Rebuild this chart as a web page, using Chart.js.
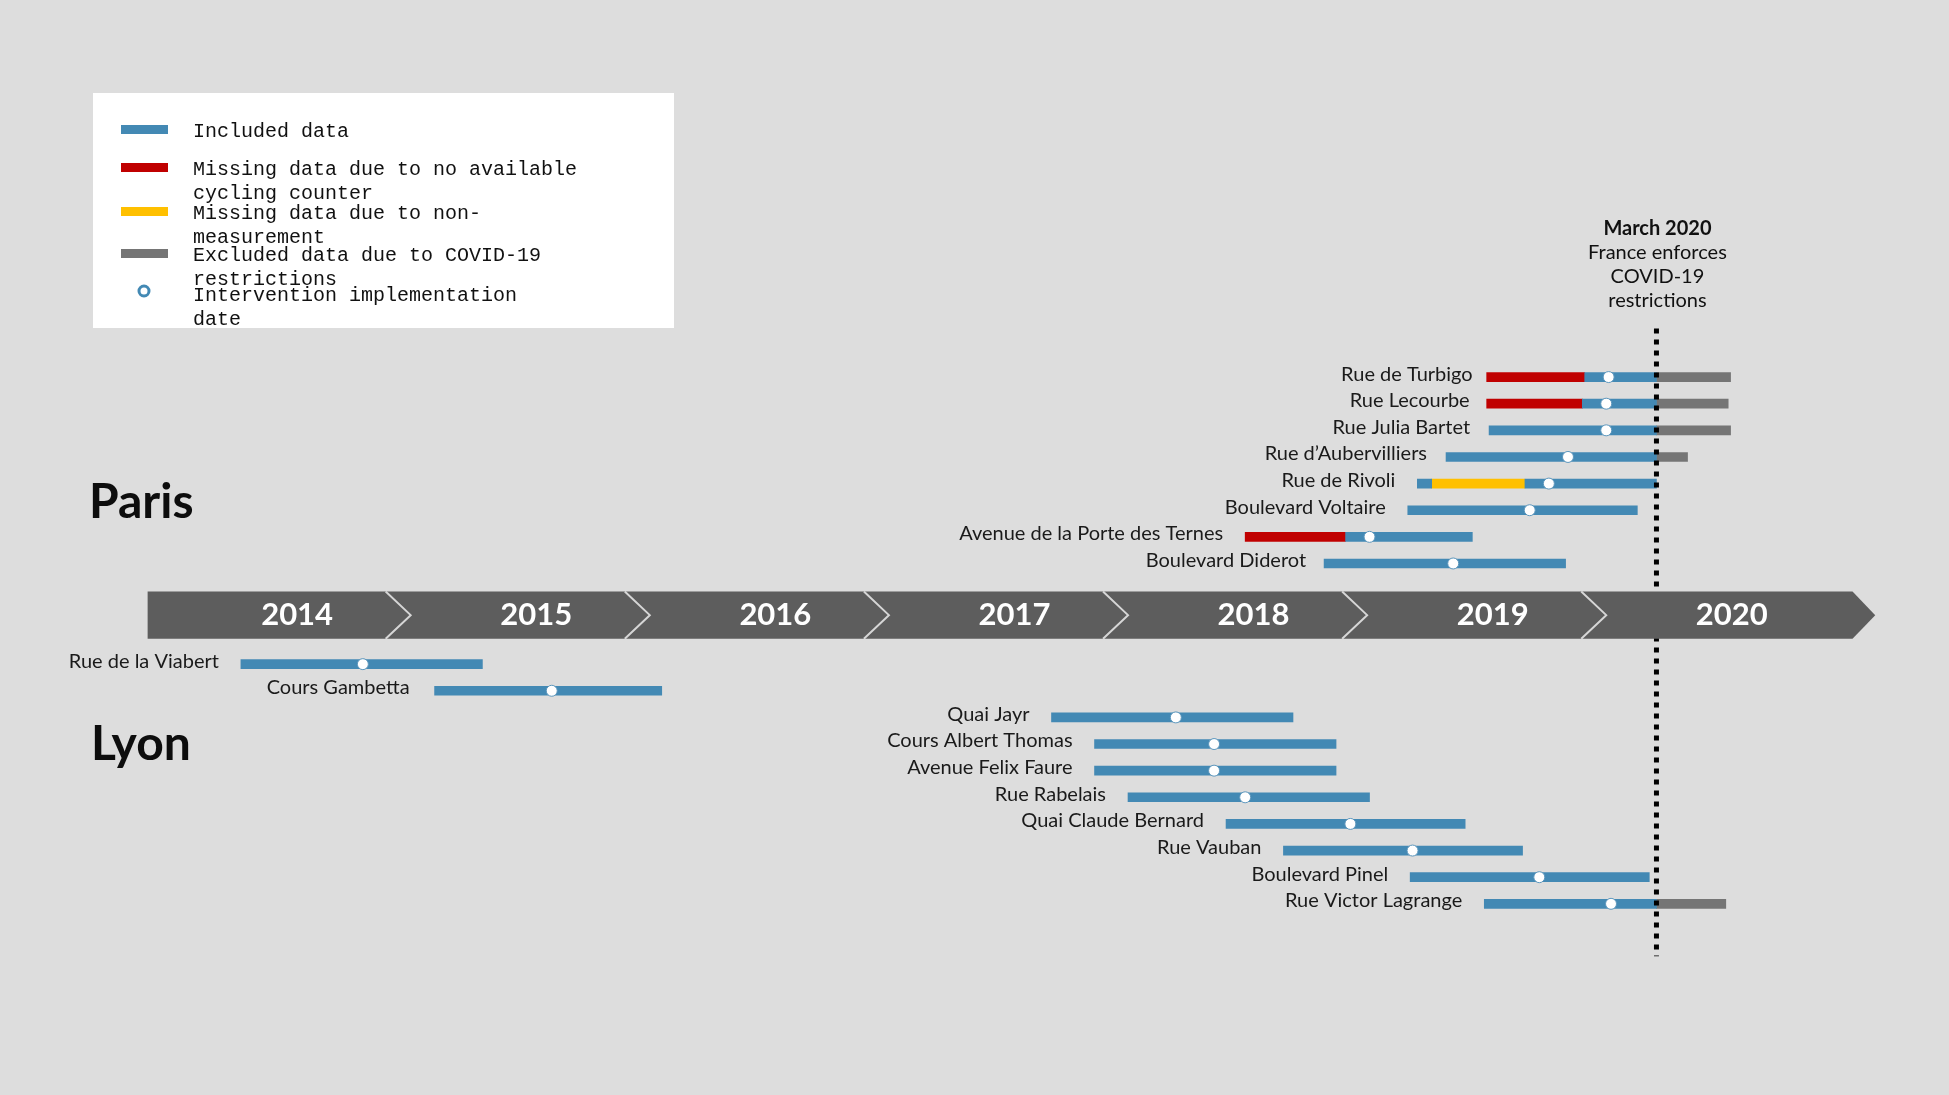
<!DOCTYPE html>
<html>
<head>
<meta charset="utf-8">
<title>Cycling interventions timeline</title>
<script src="https://cdn.jsdelivr.net/npm/chart.js@4.4.1/dist/chart.umd.min.js"></script>
<style>
    html, body {
        margin: 0;
        padding: 0;
        background: #dddddd;
    }
    #timelineChart {
        display: block;
    }
</style>
</head>
<body>
<canvas id="timelineChart" width="1949" height="1095"></canvas>
<script>
// Streets, top to bottom
const parisStreets = [
    'Rue de Turbigo', 'Rue Lecourbe', 'Rue Julia Bartet', 'Rue d\u2019Aubervilliers',
    'Rue de Rivoli', 'Boulevard Voltaire', 'Avenue de la Porte des Ternes', 'Boulevard Diderot'
];
const lyonStreets = [
    'Rue de la Viabert', 'Cours Gambetta', 'Quai Jayr', 'Cours Albert Thomas',
    'Avenue Felix Faure', 'Rue Rabelais', 'Quai Claude Bernard', 'Rue Vauban',
    'Boulevard Pinel', 'Rue Victor Lagrange'
];

const yearLabels = ['2014', '2015', '2016', '2017', '2018', '2019', '2020'];
const covidDate = 2020.21;

// [street, start, end] in decimal years
const includedData = [
    ['Rue de Turbigo', 2019.91, 2020.21],
    ['Rue Lecourbe', 2019.90, 2020.21],
    ['Rue Julia Bartet', 2019.51, 2020.21],
    ['Rue d\u2019Aubervilliers', 2019.33, 2020.21],
    ['Rue de Rivoli', 2019.21, 2019.27],
    ['Rue de Rivoli', 2019.66, 2020.21],
    ['Boulevard Voltaire', 2019.17, 2020.13],
    ['Avenue de la Porte des Ternes', 2018.91, 2019.44],
    ['Boulevard Diderot', 2018.82, 2019.83],
    ['Rue de la Viabert', 2014.29, 2015.30],
    ['Cours Gambetta', 2015.10, 2016.05],
    ['Quai Jayr', 2017.68, 2018.69],
    ['Cours Albert Thomas', 2017.86, 2018.87],
    ['Avenue Felix Faure', 2017.86, 2018.87],
    ['Rue Rabelais', 2018.00, 2019.01],
    ['Quai Claude Bernard', 2018.41, 2019.41],
    ['Rue Vauban', 2018.65, 2019.65],
    ['Boulevard Pinel', 2019.18, 2020.18],
    ['Rue Victor Lagrange', 2019.49, 2020.21]
];
const noCounterData = [
    ['Rue de Turbigo', 2019.50, 2019.91],
    ['Rue Lecourbe', 2019.50, 2019.90],
    ['Avenue de la Porte des Ternes', 2018.49, 2018.91]
];
const noMeasureData = [
    ['Rue de Rivoli', 2019.27, 2019.66]
];
const covidExcludedData = [
    ['Rue de Turbigo', 2020.21, 2020.52],
    ['Rue Lecourbe', 2020.21, 2020.51],
    ['Rue Julia Bartet', 2020.21, 2020.52],
    ['Rue d\u2019Aubervilliers', 2020.21, 2020.34],
    ['Rue Victor Lagrange', 2020.21, 2020.50]
];
// [street, intervention date]
const interventionData = [
    ['Rue de Turbigo', 2020.01],
    ['Rue Lecourbe', 2020.00],
    ['Rue Julia Bartet', 2020.00],
    ['Rue d\u2019Aubervilliers', 2019.84],
    ['Rue de Rivoli', 2019.76],
    ['Boulevard Voltaire', 2019.68],
    ['Avenue de la Porte des Ternes', 2019.01],
    ['Boulevard Diderot', 2019.36],
    ['Rue de la Viabert', 2014.80],
    ['Cours Gambetta', 2015.59],
    ['Quai Jayr', 2018.20],
    ['Cours Albert Thomas', 2018.36],
    ['Avenue Felix Faure', 2018.36],
    ['Rue Rabelais', 2018.49],
    ['Quai Claude Bernard', 2018.93],
    ['Rue Vauban', 2019.19],
    ['Boulevard Pinel', 2019.72],
    ['Rue Victor Lagrange', 2020.02]
];

const legendItems = [
    { kind: 'bar', color: '#4389b4', lines: ['Included data'] },
    { kind: 'bar', color: '#c00000', lines: ['Missing data due to no available', 'cycling counter'] },
    { kind: 'bar', color: '#ffc000', lines: ['Missing data due to non-', 'measurement'] },
    { kind: 'bar', color: '#757575', lines: ['Excluded data due to COVID-19', 'restrictions'] },
    { kind: 'dot', color: '#4389b4', lines: ['Intervention implementation', 'date'] }
];
const annotationLines = ['March 2020', 'France enforces', 'COVID-19', 'restrictions'];

// Layout: row positions on the y scale (Paris rows, then the timeline band, then Lyon rows)
const lyonOffset = 10.78;
const band = { start: 2013.9, end: 2021.03, tip: 2021.125, top: 8.05, bottom: 9.83 };
// small hand nudges of the street labels (px), as in the original
const labelNudge = {
    'Rue de Turbigo': 8, 'Rue Lecourbe': 5, 'Rue Julia Bartet': 3,
    'Rue d\u2019Aubervilliers': 3, 'Boulevard Diderot': 4, 'Cours Gambetta': -3
};

function rowOf(street) {
    const p = parisStreets.indexOf(street);
    return p !== -1 ? p : lyonOffset + lyonStreets.indexOf(street);
}

function toBars(rows) {
    return rows.map(([street, start, end]) => ({ x: [start, end], y: rowOf(street) }));
}

const allStreets = parisStreets.concat(lyonStreets);
const allSegments = includedData.concat(noCounterData, noMeasureData, covidExcludedData);
const firstStart = {};
allSegments.forEach(([street, start]) => {
    if (firstStart[street] === undefined || start < firstStart[street]) {
        firstStart[street] = start;
    }
});

const barDefaults = {
    type: 'bar',
    grouped: false,
    barThickness: 9,
    borderWidth: 0,
    borderSkipped: false,
    order: 3
};

const timelineDecor = {
    id: 'timelineDecor',
    afterDatasetsDraw(chart) {
        const { ctx, scales: { x, y } } = chart;
        ctx.save();

        // timeline band with arrow head
        const left = x.getPixelForValue(band.start);
        const right = x.getPixelForValue(band.end);
        const tip = x.getPixelForValue(band.tip);
        const top = y.getPixelForValue(band.top);
        const bottom = y.getPixelForValue(band.bottom);
        const mid = (top + bottom) / 2;
        ctx.fillStyle = '#5d5d5d';
        ctx.beginPath();
        ctx.moveTo(left, top);
        ctx.lineTo(right, top);
        ctx.lineTo(tip, mid);
        ctx.lineTo(right, bottom);
        ctx.lineTo(left, bottom);
        ctx.closePath();
        ctx.fill();

        // chevrons between years
        ctx.strokeStyle = '#d6d6d6';
        ctx.lineWidth = 2;
        for (let i = 1; i < yearLabels.length; i++) {
            const px = x.getPixelForValue(Number(yearLabels[i]));
            ctx.beginPath();
            ctx.moveTo(px - 25, top);
            ctx.lineTo(px, mid);
            ctx.lineTo(px - 25, bottom);
            ctx.stroke();
        }

        ctx.fillStyle = '#ffffff';
        ctx.font = 'bold 31px Lato';
        ctx.textAlign = 'center';
        ctx.textBaseline = 'middle';
        yearLabels.forEach((label) => {
            ctx.fillText(label, x.getPixelForValue(Number(label) + 0.5) + 6, mid);
        });

        // street names
        ctx.fillStyle = '#1a1a1a';
        ctx.font = '20px Lato';
        ctx.textAlign = 'right';
        allStreets.forEach((street) => {
            const px = x.getPixelForValue(firstStart[street]) - 22 + (labelNudge[street] || 0);
            ctx.fillText(street, px, y.getPixelForValue(rowOf(street)) - 3);
        });

        // city names
        ctx.fillStyle = '#0d0d0d';
        ctx.font = 'bold 48px Lato';
        ctx.textAlign = 'left';
        ctx.textBaseline = 'alphabetic';
        ctx.fillText('Paris', 89, 518);
        ctx.fillText('Lyon', 91, 760);

        // lockdown note
        const cx = x.getPixelForValue(covidDate) + 1;
        ctx.textAlign = 'center';
        ctx.textBaseline = 'middle';
        ctx.fillStyle = '#111111';
        annotationLines.forEach((line, i) => {
            ctx.font = (i === 0 ? 'bold ' : '') + '20px Lato';
            ctx.fillText(line, cx, 229 + i * 24);
        });

        // legend box
        ctx.fillStyle = '#ffffff';
        ctx.fillRect(93, 93, 581, 235);
        ctx.font = '20px "Liberation Mono"';
        ctx.textAlign = 'left';
        const itemTops = [132, 170, 214, 256, 296];
        legendItems.forEach((item, i) => {
            const ty = itemTops[i];
            if (item.kind === 'bar') {
                ctx.fillStyle = item.color;
                ctx.fillRect(121, ty - 7, 47, 9);
            } else {
                ctx.beginPath();
                ctx.arc(144, ty - 5, 5, 0, Math.PI * 2);
                ctx.fillStyle = '#ffffff';
                ctx.fill();
                ctx.lineWidth = 3;
                ctx.strokeStyle = item.color;
                ctx.stroke();
            }
            ctx.fillStyle = '#111111';
            item.lines.forEach((line, j) => {
                ctx.fillText(line, 193, ty + j * 24);
            });
        });

        ctx.restore();
    }
};

const ctx = document.getElementById('timelineChart').getContext('2d');
const timelineChart = new Chart(ctx, {
    type: 'bar',
    data: {
        datasets: [
            { ...barDefaults, label: 'Included data', data: toBars(includedData), backgroundColor: '#4389b4' },
            { ...barDefaults, label: 'Missing data due to no available cycling counter', data: toBars(noCounterData), backgroundColor: '#c00000' },
            { ...barDefaults, label: 'Missing data due to non-measurement', data: toBars(noMeasureData), backgroundColor: '#ffc000' },
            { ...barDefaults, label: 'Excluded data due to COVID-19 restrictions', data: toBars(covidExcludedData), backgroundColor: '#757575' },
            {
                type: 'line',
                label: 'March 2020',
                indexAxis: 'x',
                data: [{ x: covidDate, y: -1.82 }, { x: covidDate, y: 21.75 }],
                borderColor: '#000000',
                borderWidth: 5,
                borderDash: [5, 6],
                borderCapStyle: 'butt',
                pointRadius: 0,
                fill: false,
                order: 2
            },
            {
                type: 'scatter',
                label: 'Intervention implementation date',
                indexAxis: 'x',
                data: interventionData.map(([street, date]) => ({ x: date, y: rowOf(street) })),
                pointRadius: 5.5,
                pointBackgroundColor: '#ffffff',
                pointBorderColor: '#5d97bd',
                pointBorderWidth: 1,
                order: 1
            }
        ]
    },
    options: {
        indexAxis: 'y',
        responsive: false,
        animation: false,
        layout: {
            padding: { left: 52, right: 8, top: 0, bottom: 0 }
        },
        plugins: {
            legend: { display: false },
            tooltip: { enabled: false }
        },
        scales: {
            x: {
                type: 'linear',
                display: false,
                offset: false,
                min: 2013.5,
                max: 2021.4
            },
            y: {
                type: 'linear',
                display: false,
                offset: false,
                reverse: true,
                min: -13.915,
                max: 26.715
            }
        }
    },
    plugins: [timelineDecor]
});
</script>
</body>
</html>
